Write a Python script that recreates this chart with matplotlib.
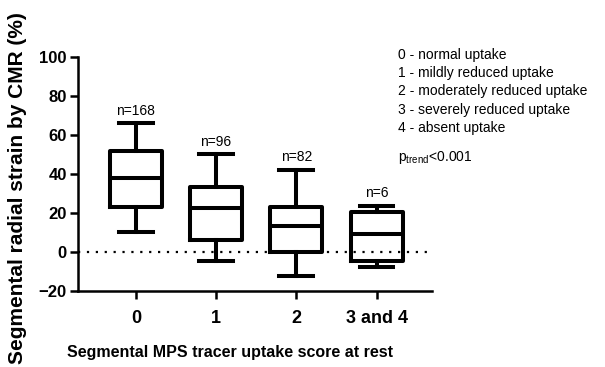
import matplotlib
matplotlib.use('Agg')
import matplotlib.pyplot as plt

plt.rcParams['font.family'] = ['Liberation Sans', 'DejaVu Sans']

groups = ['0', '1', '2', '3 and 4']
n_labels = ['n=168', 'n=96', 'n=82', 'n=6']
whislo = [10, -4.5, -12.5, -7.8]
q1 = [23, 6, 0, -4.5]
med = [38, 22.5, 13.5, 9]
q3 = [52, 33.5, 23, 20.7]
whishi = [66, 50, 42, 23.7]
legend_lines = ['0 - normal uptake', '1 - mildly reduced uptake',
                '2 - moderately reduced uptake', '3 - severely reduced uptake',
                '4 - absent uptake']

fig = plt.figure(figsize=(6.05, 3.67), dpi=100)
ax = fig.add_axes([0.129, 0.207, 0.585, 0.638])

stats = []
for i in range(len(groups)):
    stats.append({'whislo': whislo[i], 'q1': q1[i], 'med': med[i],
                  'q3': q3[i], 'whishi': whishi[i], 'fliers': []})

lw = 2.9
ax.bxp(stats, positions=range(len(groups)), widths=0.65, showfliers=False,
       boxprops=dict(color='black', linewidth=lw),
       medianprops=dict(color='black', linewidth=lw, solid_capstyle='butt'),
       whiskerprops=dict(color='black', linewidth=lw),
       capprops=dict(color='black', linewidth=lw),
       capwidths=0.42)

ax.axhline(0, color='black', linestyle=(0, (1, 3)), linewidth=1.6, zorder=0)

for i, t in enumerate(n_labels):
    ax.text(i, whishi[i] + 6.5, t, ha='center', va='center', fontsize=10)

ax.set_xlim(-0.72, 3.69)
ax.set_ylim(-20, 100)
ax.set_yticks([-20, 0, 20, 40, 60, 80, 100])
ax.set_xticks(range(len(groups)))
ax.set_xticklabels(groups)
for lab in ax.get_xticklabels() + ax.get_yticklabels():
    lab.set_fontweight('bold')
ax.tick_params(axis='x', labelsize=13, width=1.8, length=6, pad=8)
ax.tick_params(axis='y', labelsize=12, width=1.8, length=6, pad=2)
ax.spines['top'].set_visible(False)
ax.spines['right'].set_visible(False)
for s in ['left', 'bottom']:
    ax.spines[s].set_linewidth(1.8)

ax.set_ylabel('Segmental radial strain by CMR (%)', fontsize=15,
              fontweight='bold')
ax.yaxis.set_label_coords(-0.143, 0.44)
ax.set_xlabel('Segmental MPS tracer uptake score at rest', fontsize=11.5,
              fontweight='bold')
ax.xaxis.set_label_coords(0.43, -0.23)

for k, line in enumerate(legend_lines):
    fig.text(398 / 605, 1 - (55 + 18.2 * k) / 367, line, fontsize=10,
             ha='left', va='center')
fig.text(398 / 605, 1 - 158 / 367, r'p$_{\mathregular{trend}}$<0.001',
         fontsize=10, ha='left', va='center')

fig.savefig('out.png', dpi=100)
